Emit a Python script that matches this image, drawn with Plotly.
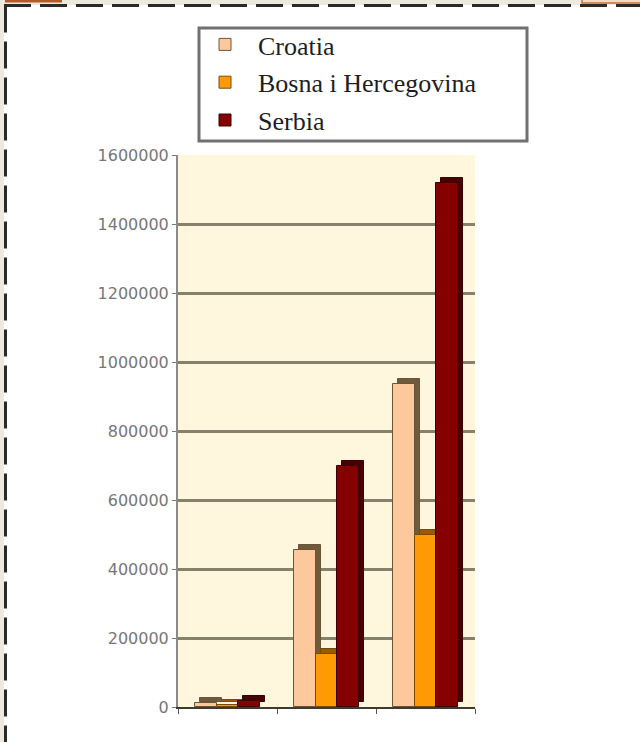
import plotly.graph_objects as go

# ---- data -------------------------------------------------------------
categories = ["I", "II", "III"]
series_names = ["Croatia", "Bosna i Hercegovina", "Serbia"]
croatia = [12000, 455000, 935000]
bosnia = [6000, 155000, 500000]
serbia = [18000, 700000, 1520000]
y_ticks = [0, 200000, 400000, 600000, 800000, 1000000, 1200000, 1400000, 1600000]

# ---- layout geometry (pixels) -------------------------------------------
W, H = 640, 742
PL, PR, PT, PB = 178, 475, 155, 707
Y_MAX = 1600000


def xp(px):
    return (px - PL) / (PR - PL)


def yp(py):
    return (PB - py) / (PB - PT)


front_colors = ["#FDC99C", "#FF9A05", "#850000"]
side_colors = ["#6F5B3C", "#9A5A08", "#4A0000"]
edge_colors = ["#6A5538", "#7A4A05", "#3A0000"]

bar_w = 0.22
offsets = [-0.33, -0.11, 0.11]
depth_px = 5
depth_x = depth_px / ((PR - PL) / 3)
depth_y = depth_px * Y_MAX / (PB - PT)

fig = go.Figure()
for name, vals, fc, sc, ec, off in zip(
    series_names, [croatia, bosnia, serbia], front_colors, side_colors, edge_colors, offsets
):
    # extruded back face giving the bars their depth
    fig.add_trace(go.Bar(
        x=categories, y=vals, base=[depth_y] * len(vals),
        width=bar_w, offset=off + depth_x,
        marker=dict(color=sc, line=dict(color=ec, width=1)),
        showlegend=False, hoverinfo="skip",
    ))
    # front face
    fig.add_trace(go.Bar(
        x=categories, y=vals, name=name, legendgroup=name,
        width=bar_w, offset=off,
        marker=dict(color=fc, line=dict(color=ec, width=1)),
    ))

shapes = [
    # beige page strips and dashed frame
    dict(type="rect", xref="paper", yref="paper", x0=xp(0), x1=xp(W), y0=yp(0), y1=yp(5),
         fillcolor="#EDE9DF", line=dict(width=0), layer="below"),
    dict(type="rect", xref="paper", yref="paper", x0=xp(0), x1=xp(4), y0=yp(0), y1=yp(H),
         fillcolor="#EDE9DF", line=dict(width=0), layer="below"),
    dict(type="rect", xref="paper", yref="paper", x0=xp(5), x1=xp(62), y0=yp(0), y1=yp(2.5),
         fillcolor="#B5582A", line=dict(width=0)),
    dict(type="rect", xref="paper", yref="paper", x0=xp(582), x1=xp(641), y0=yp(-1), y1=yp(3),
         fillcolor="#F3D9C4", line=dict(color="#C0703E", width=1.5)),
    dict(type="line", xref="paper", yref="paper", x0=xp(4), x1=xp(W), y0=yp(5.5), y1=yp(5.5),
         line=dict(color="#2A2A2A", width=3, dash="27px,9px")),
    dict(type="line", xref="paper", yref="paper", x0=xp(5.5), x1=xp(5.5), y0=yp(5.5), y1=yp(H),
         line=dict(color="#2A2A2A", width=3, dash="27px,9px")),
    # legend frame
    dict(type="rect", xref="paper", yref="paper", x0=xp(199), x1=xp(527), y0=yp(28), y1=yp(141),
         fillcolor="white", line=dict(color="#707070", width=3)),
]

fig.update_layout(
    width=W, height=H,
    margin=dict(l=PL, r=W - PR, t=PT, b=H - PB, pad=0),
    paper_bgcolor="white",
    plot_bgcolor="#FEF6DD",
    barmode="overlay",
    bargap=0,
    shapes=shapes,
    showlegend=True,
    legend=dict(
        x=xp(192), y=yp(21), xanchor="left", yanchor="top",
        bgcolor="rgba(0,0,0,0)", borderwidth=0,
        font=dict(family="Liberation Serif", size=26, color="#1E1E1E"),
        traceorder="grouped", tracegroupgap=1, itemwidth=56,
        itemclick=False, itemdoubleclick=False,
    ),
    xaxis=dict(
        type="category", categoryorder="array", categoryarray=categories,
        range=[-0.5, 2.5], showticklabels=False, showgrid=False,
        ticks="outside", tickson="boundaries", ticklen=5, tickcolor="#555555",
        showline=True, linecolor="#3E3A30", linewidth=2, fixedrange=True,
    ),
    yaxis=dict(
        range=[0, Y_MAX], tickvals=y_ticks, tickformat="d",
        showgrid=True, gridcolor="#86816B", gridwidth=3, zeroline=False,
        showline=True, linecolor="#8A8A8A", linewidth=2,
        ticks="outside", ticklen=4, tickcolor="#7A7A7A",
        tickfont=dict(family="DejaVu Sans", size=16, color="#777777"),
        fixedrange=True,
    ),
)

fig.write_html("out.html")
